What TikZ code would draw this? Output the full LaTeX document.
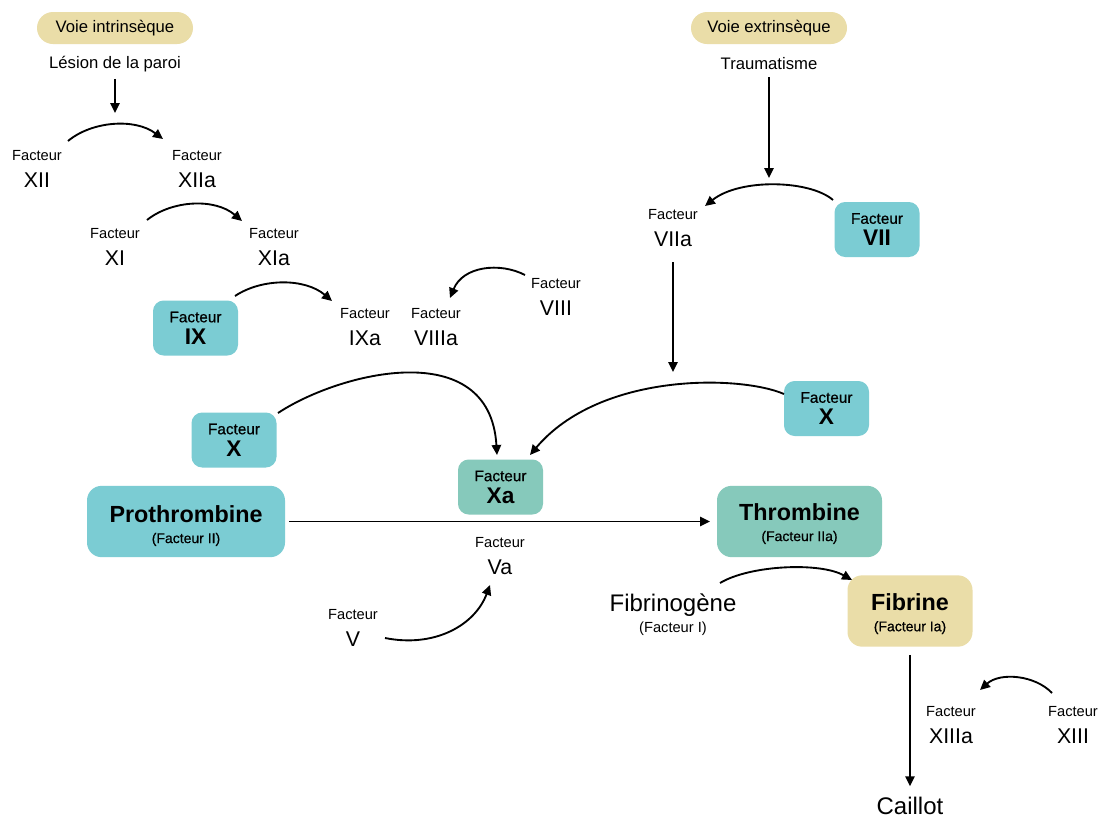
\documentclass[tikz,border=0pt]{standalone}
\usepackage{fontspec}
\setmainfont{Liberation Sans}
\newfontfamily\medfont[FakeBold=0.6]{Liberation Sans}
\usetikzlibrary{arrows.meta}
\definecolor{cyanbox}{RGB}{123,204,211}
\definecolor{tealbox}{RGB}{134,201,187}
\definecolor{tanbox}{RGB}{234,221,168}
\newcommand\facsmall{\fontsize{11}{13}\selectfont}
\newcommand\facbox{\normalfont\medfont\fontsize{11.5}{13}\selectfont}
\newcommand\subsmall{\normalfont\medfont\fontsize{10.5}{12}\selectfont}
\begin{document}
\begin{tikzpicture}[x=0.75pt,y=-0.75pt,
  arr/.style={line width=1.4pt,-{Triangle[length=7.5pt,width=7pt]}},
  lbl/.style={align=center,inner sep=0pt,font=\fontsize{16}{20.5}\selectfont},
  txt/.style={align=center,inner sep=0pt,font=\fontsize{12.5}{15}\selectfont},
  pill/.style={rounded corners=12pt,fill=tanbox,minimum width=117pt,minimum height=24pt,inner sep=0pt,font=\fontsize{12.5}{15}\selectfont},
  fbox/.style={rounded corners=8pt,fill=cyanbox,minimum width=63.75pt,minimum height=41.25pt,align=center,inner sep=0pt,font=\fontsize{17}{16.5}\selectfont\bfseries},
  bigbox/.style={rounded corners=11pt,minimum height=53.5pt,align=center,inner sep=0pt,font=\fontsize{17.5}{15.5}\selectfont\bfseries},
  bigtxt/.style={align=center,inner sep=0pt,font=\fontsize{18}{15.75}\selectfont}
]
\useasboundingbox[fill=white] (0,0) rectangle (1104,818);

% pills and headers
\node[pill] (vint) at (115,28) {Voie intrinsèque};
\node[txt] (lesion) at (115,64) {Lésion de la paroi};
\node[pill] (vext) at (769,28) {Voie extrinsèque};
\node[txt] (trauma) at (769,64) {Traumatisme};

% intrinsic labels
\node[lbl] (fxii) at (37,169) {{\facsmall Facteur}\\XII};
\node[lbl] (fxiia) at (197,169) {{\facsmall Facteur}\\XIIa};
\node[lbl] (fxi) at (115,247) {{\facsmall Facteur}\\XI};
\node[lbl] (fxia) at (274,247) {{\facsmall Facteur}\\XIa};
\node[fbox] (fix) at (195.5,328) {{\facbox Facteur}\\IX};
\node[lbl] (fixa) at (365,327) {{\facsmall Facteur}\\IXa};
\node[lbl] (fviiia) at (436,327) {{\facsmall Facteur}\\VIIIa};
\node[lbl] (fviii) at (556,297) {{\facsmall Facteur}\\VIII};

% extrinsic labels
\node[lbl] (fviia) at (673,228) {{\facsmall Facteur}\\VIIa};
\node[fbox] (fvii) at (877,229.5) {{\facbox Facteur}\\VII};

% factor X
\node[fbox] (fxl) at (234,440) {{\facbox Facteur}\\X};
\node[fbox] (fxr) at (826.5,408.5) {{\facbox Facteur}\\X};
\node[fbox,fill=tealbox] (fxa) at (500.5,487) {{\facbox Facteur}\\Xa};

% common pathway
\node[bigbox,fill=cyanbox,minimum width=148.5pt] (proth) at (186,521.5) {\rule{0pt}{19pt}Prothrombine\\{\subsmall (Facteur II)}};
\node[bigbox,fill=tealbox,minimum width=123.75pt] (thromb) at (799.5,521.5) {\rule{0pt}{16pt}Thrombine\\{\subsmall (Facteur IIa)}};
\node[lbl] (fva) at (500,556) {{\facsmall Facteur}\\Va};
\node[lbl] (fv) at (353,628) {{\facsmall Facteur}\\V};
\node[bigtxt] (fibrinog) at (673,615) {Fibrinogène\\{\facsmall (Facteur I)}};
\node[bigbox,fill=tanbox,minimum width=93.75pt] (fibrine) at (910,611) {\rule{0pt}{17pt}Fibrine\\{\subsmall (Facteur Ia)}};
\node[lbl] (fxiiia) at (951,725) {{\facsmall Facteur}\\XIIIa};
\node[lbl] (fxiii) at (1073,725) {{\facsmall Facteur}\\XIII};
\node[bigtxt] (caillot) at (910,806) {Caillot};

% connector end points
\coordinate (lesE) at (115,113);
\coordinate (a1s) at (68,141);  \coordinate (a1e) at (163,139);
\coordinate (a2s) at (147,220); \coordinate (a2e) at (242,221);
\coordinate (a3s) at (235,296); \coordinate (a3e) at (332,301);
\coordinate (a4s) at (525,275); \coordinate (a4e) at (450,298);
\coordinate (a5s) at (278,413); \coordinate (a5e) at (497,455);
\coordinate (a6s) at (784,394); \coordinate (a6e) at (530,455);
\coordinate (trE) at (769,178);
\coordinate (a8s) at (833,200); \coordinate (a8e) at (705,206);
\coordinate (viiaS) at (673,262); \coordinate (viiaE) at (673,372);
\coordinate (a12s) at (385,638); \coordinate (a12e) at (490,585);
\coordinate (a13s) at (720,583); \coordinate (a13e) at (852,580);
\coordinate (a15s) at (1052,693); \coordinate (a15e) at (980,690);

% connectors
\draw[arr] ([yshift=-5pt]lesion.south) -- (lesE);
\draw[arr] (a1s) .. controls (92,121) and (135,118) .. (a1e);
\draw[arr] (a2s) .. controls (172,200) and (215,198) .. (a2e);
\draw[arr] (a3s) .. controls (262,278) and (305,278) .. (a3e);
\draw[arr] (a4s) .. controls (500,262) and (463,266) .. (a4e);
\draw[arr] (a5s) .. controls (340,372) and (490,335) .. (a5e);
\draw[arr] (a6s) .. controls (740,375) and (600,372) .. (a6e);
\draw[arr] ([yshift=-5pt]trauma.south) -- (trE);
\draw[arr] (a8s) .. controls (810,180) and (740,178) .. (a8e);
\draw[arr] (viiaS) -- (viiaE);
\draw[arr] ([xshift=3pt]proth.east) -- ([xshift=-5pt]thromb.west);
\draw[arr] (a12s) .. controls (435,648) and (475,625) .. (a12e);
\draw[arr] (a13s) .. controls (750,565) and (820,562) .. (a13e);
\draw[arr] ([yshift=-6pt]fibrine.south) -- ([yshift=8pt]caillot.north);
\draw[arr] (a15s) .. controls (1035,675) and (1000,672) .. (a15e);
\end{tikzpicture}
\end{document}
